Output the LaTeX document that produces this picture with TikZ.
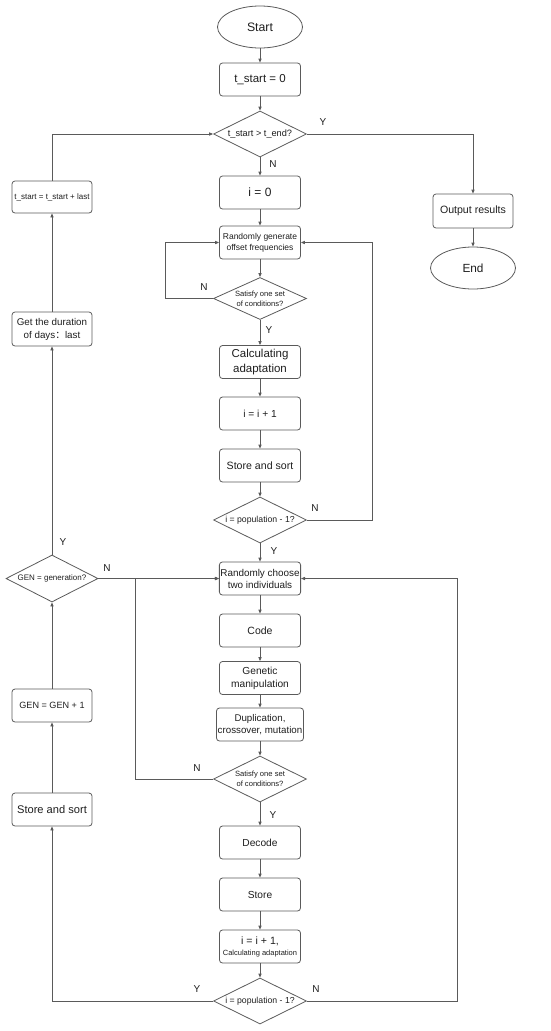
\documentclass[tikz,border=0pt]{standalone}
\usepackage{fontspec}
\setmainfont{Liberation Sans}
\newfontfamily\cjk{Noto Sans CJK SC}
\usetikzlibrary{arrows.meta}
\usetikzlibrary{shapes}

\definecolor{lineGray}{RGB}{90,90,90}
\definecolor{textGray}{RGB}{30,30,30}
\newcommand{\fs}[2]{\fontsize{#1}{#2}\selectfont}

\begin{document}
\begin{tikzpicture}[x = 1pt, y = -1pt]
	\tikzstyle{procStyle} = [draw = lineGray, line width = 0.8pt, rounded corners = 3pt, minimum width = 81pt, minimum height = 33pt, inner sep = 1pt, align = center, text = textGray]
	\tikzstyle{termStyle} = [draw = lineGray, line width = 0.8pt, ellipse, minimum width = 85pt, minimum height = 42pt, inner sep = 0pt, text = textGray]
	\tikzstyle{decideStyle} = [draw = lineGray, line width = 0.8pt, diamond, aspect = 2, minimum width = 93pt, minimum height = 46pt, inner sep = 0pt, align = center, text = textGray]
	\tikzstyle{flowStyle} = [draw = lineGray, line width = 0.8pt, -{Triangle[length = 4pt, width = 3.2pt]}]
	\tikzstyle{answerStyle} = [text = textGray, font = \fs{10}{12}]
	\useasboundingbox (0, 0) rectangle (550, 1031);
	% main column
	\node[termStyle, font = \fs{12.3}{15}] (start) at (260, 27) {Start};
	\node[procStyle, font = \fs{11.5}{14}] (tzero) at (260, 79.5) {t\_start = 0};
	\node[decideStyle, font = \fs{9.2}{11}] (tcheck) at (260, 134) {t\_start > t\_end?};
	\node[procStyle, font = \fs{12}{14}] (izero) at (260, 192.5) {i = 0};
	\node[procStyle, font = \fs{8.5}{11}] (gen) at (260, 242.5) {Randomly generate\\offset frequencies};
	\node[decideStyle, minimum height = 42pt, font = \fs{7.6}{10}] (sata) at (260, 298.5) {Satisfy one set\\of conditions?};
	\node[procStyle, font = \fs{11.5}{15}] (calc) at (260, 362) {Calculating\\adaptation};
	\node[procStyle, font = \fs{10.2}{12}] (inca) at (260, 413.5) {i = i + 1};
	\node[procStyle, font = \fs{10.6}{12}] (sorta) at (260, 465.5) {Store and sort};
	\node[decideStyle, font = \fs{8.7}{11}] (popa) at (260, 520) {i = population - 1?};
	\node[procStyle, font = \fs{9.9}{12}] (choose) at (260, 578.5) {Randomly choose\\two individuals};
	\node[procStyle, font = \fs{10.5}{12}] (code) at (260, 630.5) {Code};
	\node[procStyle, font = \fs{10.2}{13}] (genm) at (260, 678) {Genetic\\manipulation};
	\node[procStyle, minimum width = 87pt, inner sep = 0.5pt, font = \fs{9.75}{12.5}] (dup) at (260, 724.5) {Duplication,\\crossover, mutation};
	\node[decideStyle, font = \fs{7.6}{10}] (satb) at (260, 779) {Satisfy one set\\of conditions?};
	\node[procStyle, font = \fs{10.2}{12}] (decode) at (260, 842.5) {Decode};
	\node[procStyle, font = \fs{10.2}{12}] (store) at (260, 894.5) {Store};
	\node[procStyle, font = \fs{10.6}{12}] (incb) at (260, 946.5) {i = i + 1,\\[-1pt]{\fs{7.5}{9}Calculating adaptation}};
	\node[decideStyle, font = \fs{8.7}{11}] (popb) at (260, 1001) {i = population - 1?};
	% right column
	\node[procStyle, minimum width = 80pt, minimum height = 34pt, font = \fs{10.6}{12}] (out) at (473, 211) {Output results};
	\node[termStyle, font = \fs{11.8}{14}] (fin) at (473, 268) {End};
	% left column
	\node[procStyle, minimum width = 80pt, minimum height = 32pt, font = \fs{8}{10}] (tupd) at (52, 197) {t\_start = t\_start + last};
	\node[procStyle, minimum width = 80pt, minimum height = 34pt, font = \fs{9.8}{13}] (dur) at (52, 329) {Get the duration\\of days{\cjk ：}last};
	\node[decideStyle, minimum width = 92pt, minimum height = 47pt, font = \fs{8}{10}] (gdiam) at (52, 578.5) {GEN = generation?};
	\node[procStyle, minimum width = 80pt, font = \fs{9.1}{11}] (gplus) at (52, 705.5) {GEN = GEN + 1};
	\node[procStyle, minimum width = 80pt, font = \fs{11.1}{13}] (sortb) at (52, 809.5) {Store and sort};
	\coordinate (join) at (135, 578.5);
	% connectors
	\draw[flowStyle] (start) -- (tzero);
	\draw[flowStyle] (tzero) -- (tcheck);
	\draw[flowStyle] (tcheck) -- (izero);
	\draw[flowStyle] (tcheck.east) -| (out.north);
	\draw[flowStyle] (out) -- (fin);
	\draw[flowStyle] (izero) -- (gen);
	\draw[flowStyle] (gen) -- (sata);
	\draw[flowStyle] (sata.west) -- ++(-47.5, 0) |- (gen.west);
	\draw[flowStyle] (sata) -- (calc);
	\draw[flowStyle] (calc) -- (inca);
	\draw[flowStyle] (inca) -- (sorta);
	\draw[flowStyle] (sorta) -- (popa);
	\draw[flowStyle] (popa.east) -- ++(65.5, 0) |- (gen.east);
	\draw[flowStyle] (popa) -- (choose);
	\draw[flowStyle] (choose) -- (code);
	\draw[flowStyle] (code) -- (genm);
	\draw[flowStyle] (genm) -- (dup);
	\draw[flowStyle] (dup) -- (satb);
	\draw[flowStyle] (satb.west) -| (join) -- (choose.west);
	\draw[flowStyle] (satb) -- (decode);
	\draw[flowStyle] (decode) -- (store);
	\draw[flowStyle] (store) -- (incb);
	\draw[flowStyle] (incb) -- (popb);
	\draw[flowStyle] (popb.east) -- ++(150.5, 0) |- (choose.east);
	\draw[flowStyle] (popb.west) -| (sortb.south);
	\draw[flowStyle] (sortb) -- (gplus);
	\draw[flowStyle] (gplus) -- (gdiam);
	\draw[flowStyle] (gdiam) -- (dur);
	\draw[flowStyle] (gdiam.east) -- (choose.west);
	\draw[flowStyle] (dur) -- (tupd);
	\draw[flowStyle] (tupd.north) |- (tcheck.west);
	% answers
	\node[answerStyle] (ya) at (323, 122) {Y};
	\node[answerStyle] (na) at (273, 164.5) {N};
	\node[answerStyle] (nb) at (204, 287) {N};
	\node[answerStyle] (yb) at (269, 330) {Y};
	\node[answerStyle] (nc) at (315, 508.5) {N};
	\node[answerStyle] (yc) at (274, 551) {Y};
	\node[answerStyle] (yd) at (63, 542) {Y};
	\node[answerStyle] (nd) at (107, 568) {N};
	\node[answerStyle] (ne) at (197, 768) {N};
	\node[answerStyle] (ye) at (273, 815) {Y};
	\node[answerStyle] (yf) at (197, 989) {Y};
	\node[answerStyle] (nf) at (316, 989) {N};
\end{tikzpicture}
\end{document}
